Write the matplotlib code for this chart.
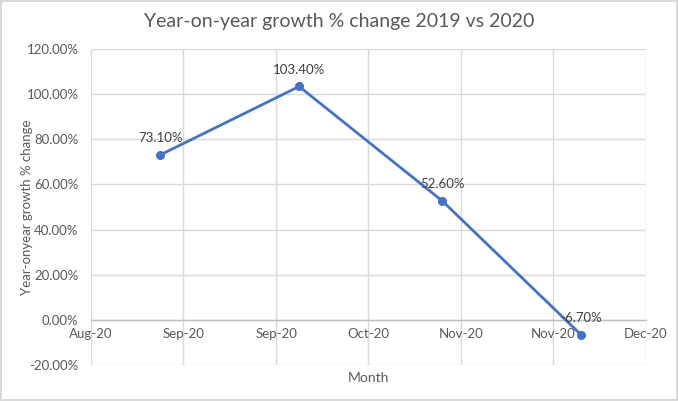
import numpy as np
import pandas as pd
import matplotlib
matplotlib.use("Agg")
import matplotlib.pyplot as plt
import matplotlib.dates as mdates

# data
months = pd.to_datetime(['2020-09-01', '2020-10-01', '2020-11-01', '2020-12-01'])
growth = [73.1, 103.4, 52.6, -6.7]
point_labels = ['73.10%', '103.40%', '52.60%', '-6.70%']
x_start, x_end = pd.Timestamp('2020-08-17'), pd.Timestamp('2020-12-15')
y_ticks = [-20, 0, 20, 40, 60, 80, 100, 120]

plt.rcParams['font.family'] = ['Lato', 'DejaVu Sans']
txt = '#595959'
grid = '#d9d9d9'
blue = '#4472C4'

fig = plt.figure(figsize=(6.78, 4.01), dpi=100, edgecolor=grid, linewidth=1.5)
ax = fig.add_axes([0.1342, 0.0898, 0.8186, 0.7880])

ax.plot(months, growth, color=blue, lw=2, marker='o', ms=5.5, zorder=3, clip_on=False)
for d, v, lab in zip(months, growth, point_labels):
    ax.annotate(lab, (d, v), xytext=(0, 12), textcoords='offset points',
                ha='center', va='center', fontsize=9.5, color='#404040', zorder=4)

ax.set_xlim(x_start, x_end)
ax.set_ylim(-20, 120)
ax.set_xticks(pd.date_range(x_start, x_end, freq='20D'))
ax.xaxis.set_major_formatter(mdates.DateFormatter('%b-%y'))
ax.set_yticks(y_ticks)
ax.set_yticklabels([f'{v:.2f}%' for v in y_ticks])

ax.grid(True, color=grid, lw=1)
ax.set_axisbelow(True)
for s in ['top', 'right', 'left']:
    ax.spines[s].set_visible(False)
ax.spines['bottom'].set_position(('data', 0))
ax.spines['bottom'].set_color('#bfbfbf')
ax.spines['bottom'].set_linewidth(1)
ax.spines['bottom'].set_zorder(2)

ax.tick_params(axis='x', length=0, pad=6, labelsize=9.5, labelcolor=txt)
ax.tick_params(axis='y', length=0, pad=9, labelsize=9.5, labelcolor=txt)

ax.set_ylabel('Year-onyear growth % change', fontsize=9.5, color=txt)
ax.yaxis.set_label_coords(-0.105, 0.5)
fig.text(0.5427, 1 - 378 / 401, 'Month', ha='center', va='center', fontsize=10, color=txt)
fig.text(0.5, 1 - 22 / 401, 'Year-on-year growth % change 2019 vs 2020',
         ha='center', va='center', fontsize=14, color=txt)

plt.savefig('out.png', dpi=100)
